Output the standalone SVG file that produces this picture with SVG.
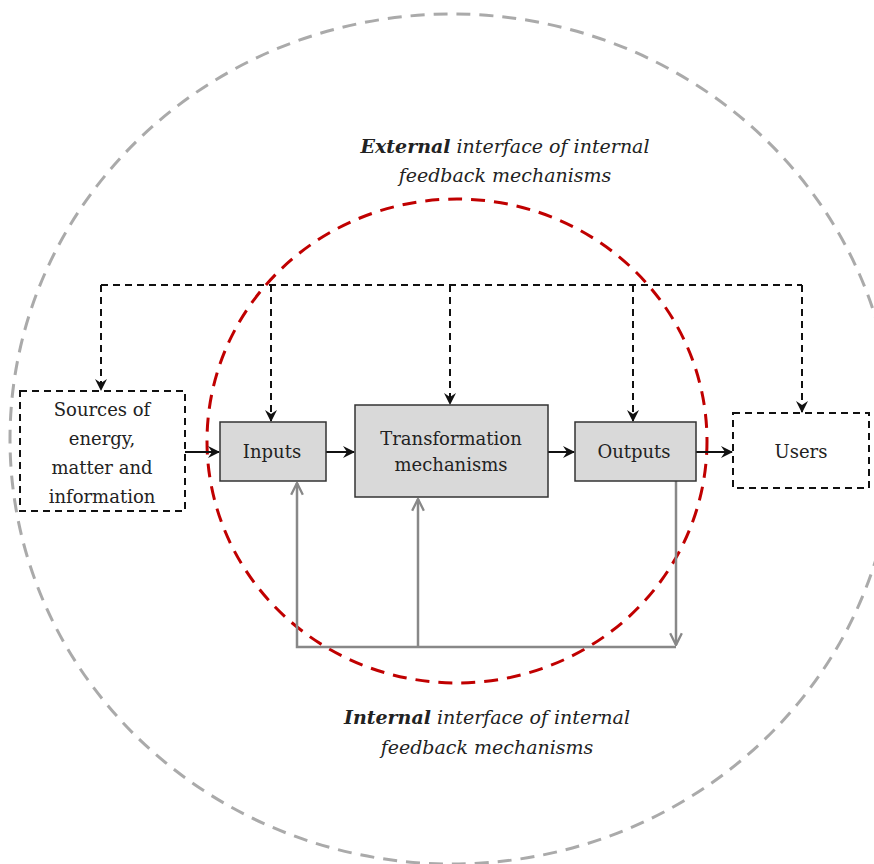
<svg xmlns="http://www.w3.org/2000/svg" width="874" height="864" viewBox="0 0 874 864">
<style>
text{font-family:"DejaVu Serif","Liberation Serif",serif;fill:#222;}
.lbl{font-size:18px;text-anchor:middle;}
.cap{font-size:19px;font-style:italic;text-anchor:middle;}
.box{fill:#d9d9d9;stroke:#333;stroke-width:1.5;}
.dbox{fill:#fff;stroke:#111;stroke-width:2;stroke-dasharray:7 5;}
.solid{fill:none;stroke:#111;stroke-width:2;}
.dash{fill:none;stroke:#111;stroke-width:2;stroke-dasharray:7 5;}
.fb{fill:none;stroke:#888;stroke-width:2.5;}
</style>
<defs>
<marker id="ab" viewBox="0 0 12 12" refX="11" refY="6" markerWidth="12" markerHeight="12" markerUnits="userSpaceOnUse" orient="auto">
<path d="M0,0 L12,6 L0,12 L4,6 z" fill="#111"/>
</marker>
<marker id="ag" viewBox="0 0 12 12" refX="11" refY="6" markerWidth="14" markerHeight="14" markerUnits="userSpaceOnUse" orient="auto">
<path d="M1,1 L11,6 L1,11" fill="none" stroke="#888" stroke-width="2"/>
</marker>
</defs>
<rect width="874" height="864" fill="#fff"/>
<g id="outer-boundary">
<ellipse cx="452" cy="439" rx="442" ry="425" fill="none" stroke="#aaa" stroke-width="3" stroke-dasharray="14 9"/>
</g>
<g id="inner-boundary">
<ellipse cx="457" cy="441" rx="250" ry="242" fill="none" stroke="#c00000" stroke-width="3" stroke-dasharray="14 9"/>
</g>
<g id="connectors">
<line class="solid" x1="185" y1="452" x2="219" y2="452" marker-end="url(#ab)"/>
<line class="solid" x1="326" y1="452" x2="354" y2="452" marker-end="url(#ab)"/>
<line class="solid" x1="548" y1="452" x2="574" y2="452" marker-end="url(#ab)"/>
<line class="solid" x1="696" y1="452" x2="732" y2="452" marker-end="url(#ab)"/>
<polyline class="dash" points="101,285 802,285"/>
<line class="dash" x1="101" y1="285" x2="101" y2="390" marker-end="url(#ab)"/>
<line class="dash" x1="271" y1="285" x2="271" y2="421" marker-end="url(#ab)"/>
<line class="dash" x1="450" y1="285" x2="450" y2="404" marker-end="url(#ab)"/>
<line class="dash" x1="633" y1="285" x2="633" y2="421" marker-end="url(#ab)"/>
<line class="dash" x1="802" y1="285" x2="802" y2="412" marker-end="url(#ab)"/>
<polyline class="fb" points="676,481 676,645" marker-end="url(#ag)"/>
<polyline class="fb" points="676,647 297,647 297,483" marker-end="url(#ag)"/>
<line class="fb" x1="418" y1="647" x2="418" y2="499" marker-end="url(#ag)"/>
</g>
<g id="sources">
<rect class="dbox" x="20" y="391" width="165" height="120"/>
<text class="lbl" x="102" y="416">Sources of</text>
<text class="lbl" x="102" y="445">energy,</text>
<text class="lbl" x="102" y="474">matter and</text>
<text class="lbl" x="102" y="503">information</text>
</g>
<g id="inputs">
<rect class="box" x="220" y="422" width="106" height="59"/>
<text class="lbl" x="272" y="458">Inputs</text>
</g>
<g id="transformation">
<rect class="box" x="355" y="405" width="193" height="92"/>
<text class="lbl" x="451" y="445">Transformation</text>
<text class="lbl" x="451" y="471">mechanisms</text>
</g>
<g id="outputs">
<rect class="box" x="575" y="422" width="121" height="59"/>
<text class="lbl" x="634" y="458">Outputs</text>
</g>
<g id="users">
<rect class="dbox" x="733" y="413" width="136" height="75"/>
<text class="lbl" x="801" y="458">Users</text>
</g>
<g id="external-label">
<text class="cap" x="505" y="153"><tspan font-weight="bold">External</tspan> interface of internal</text>
<text class="cap" x="505" y="182">feedback mechanisms</text>
</g>
<g id="internal-label">
<text class="cap" x="487" y="724"><tspan font-weight="bold">Internal</tspan> interface of internal</text>
<text class="cap" x="487" y="754">feedback mechanisms</text>
</g>
</svg>
